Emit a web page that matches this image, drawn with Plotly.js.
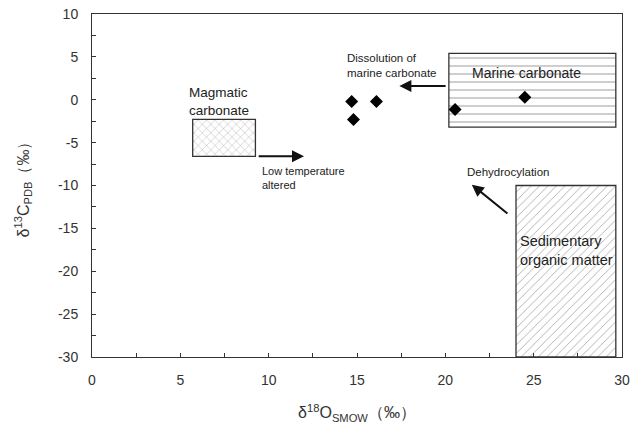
<!DOCTYPE html>
<html><head><meta charset="utf-8">
<script src="https://cdn.plot.ly/plotly-3.0.1.min.js"></script>
<style>html,body{margin:0;padding:0;background:#fff}#chart{width:632px;height:431px}</style>
</head><body><div id="chart"></div>
<script>
// Sample points
const sampleX = [14.7, 16.1, 14.8, 20.55, 24.5];
const sampleY = [-0.2, -0.2, -2.3, -1.15, 0.3];

// Field boxes
const boxNames = ["Magmatic carbonate", "Marine carbonate", "Sedimentary organic matter"];
const boxX0 = [5.7, 20.2, 24.0];
const boxX1 = [9.25, 29.65, 29.65];
const boxY0 = [-6.6, -3.2, -30];
const boxY1 = [-2.3, 5.4, -10];
const boxPatterns = ["x", "-", "/"];

// Labels
const labelText = ["Magmatic<br>carbonate", "Marine carbonate", "Sedimentary<br>organic matter",
  "Low temperature<br>altered", "Dissolution of<br>marine carbonate", "Dehydrocylation"];
const labelX = [5.4, 21.4, 24.1, 9.5, 14.3, 21.1];
const labelY = [-0.25, 3.1, -17.6, -9.1, 4.05, -8.45];
const labelSize = [13.5, 14, 14.5, 11, 11.5, 11.5];

// Arrows (tail -> head)
const arrowTailX = [9.35, 20.1, 23.6];
const arrowTailY = [-6.6, 1.6, -13.4];
const arrowHeadX = [12.0, 17.4, 21.5];
const arrowHeadY = [-6.6, 1.6, -9.9];

const xTicks = [0, 5, 10, 15, 20, 25, 30];
const yTicks = [10, 5, 0, -5, -10, -15, -20, -25, -30];

const FONT = "Liberation Sans, Arial, sans-serif";

const boxes = {
  type: "bar",
  x: boxX0.map((v, i) => (v + boxX1[i]) / 2),
  width: boxX0.map((v, i) => boxX1[i] - v),
  base: boxY0,
  y: boxY0.map((v, i) => boxY1[i] - v),
  text: boxNames,
  hoverinfo: "text",
  textposition: "none",
  marker: {
    color: "#ffffff",
    line: {color: "#333", width: 1.3},
    pattern: {shape: boxPatterns, fgcolor: "#9a9a9a", bgcolor: "#ffffff", size: [6, 8, 6], solidity: 0.12}
  },
  showlegend: false
};

const pts = {
  type: "scatter", mode: "markers",
  x: sampleX, y: sampleY,
  marker: {symbol: "diamond", size: 10, color: "#000"},
  showlegend: false
};

const annotations = labelText.map((t, i) => ({
  x: labelX[i], y: labelY[i], xref: "x", yref: "y",
  text: t, showarrow: false, xanchor: "left", yanchor: "middle", align: "left",
  font: {family: FONT, size: labelSize[i], color: "#222"}
})).concat(arrowHeadX.map((hx, i) => ({
  x: hx, y: arrowHeadY[i], ax: arrowTailX[i], ay: arrowTailY[i],
  xref: "x", yref: "y", axref: "x", ayref: "y",
  text: "", showarrow: true, arrowhead: 2, arrowsize: 1.2, arrowwidth: 2, arrowcolor: "#111", standoff: 0
})));

const axisCommon = {
  showgrid: false, zeroline: false, showline: true, linecolor: "#333", linewidth: 1, mirror: true,
  ticks: "inside", ticklen: 4, tickcolor: "#333", tickwidth: 1,
  tickfont: {family: FONT, size: 14, color: "#333"},
  ticklabelstandoff: 10,
  minor: {dtick: 2.5, ticks: "inside", ticklen: 4, tickcolor: "#333", showgrid: false},
  fixedrange: true
};

const layout = {
  width: 632, height: 431,
  margin: {l: 92, r: 10, t: 14, b: 74},
  paper_bgcolor: "#fff", plot_bgcolor: "#fff",
  barmode: "overlay",
  xaxis: Object.assign({}, axisCommon, {
    range: [0, 30], tickvals: xTicks, ticktext: xTicks.map(String),
    title: {text: "δ<sup>18</sup>O<sub>SMOW</sub>（‰）", font: {family: FONT, size: 16, color: "#333"}, standoff: 20}
  }),
  yaxis: Object.assign({}, axisCommon, {
    range: [-30, 10], tickvals: yTicks, ticktext: yTicks.map(String),
    title: {text: "δ<sup>13</sup>C<sub>PDB</sub>（‰）", font: {family: FONT, size: 16, color: "#333"}, standoff: 24}
  }),
  annotations: annotations
};

Plotly.newPlot("chart", [boxes, pts], layout, {displayModeBar: false, staticPlot: true});
</script></body></html>
